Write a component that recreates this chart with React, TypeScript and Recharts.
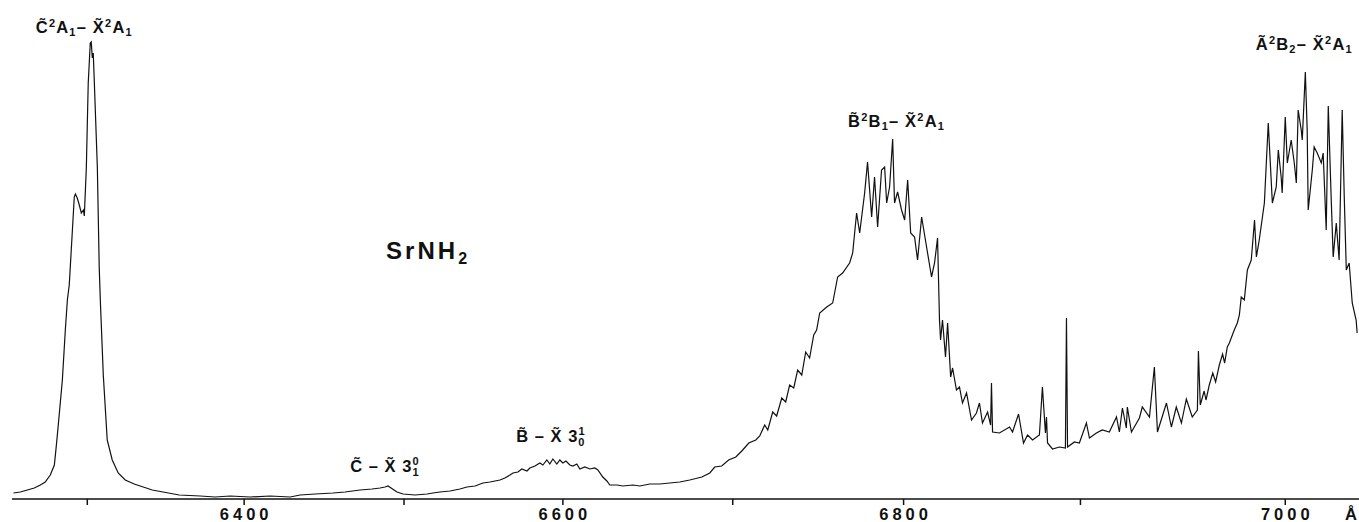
import React from 'react';
import { LineChart, Line, XAxis, YAxis, ReferenceDot } from 'recharts';

// wavelength (Å) of each point
const WAVELENGTH = [
  6252.9, 6257.3, 6261.8, 6266.2, 6270.1, 6273.2, 6276.4, 6279.0, 6280.3, 6281.5,
  6284.1, 6286.0, 6287.3, 6288.5, 6290.4, 6291.7, 6292.4, 6293.6, 6294.9, 6296.2,
  6297.5, 6298.1, 6299.4, 6300.6, 6301.9, 6302.5, 6303.2, 6303.8, 6304.5, 6306.4,
  6307.6, 6308.3, 6310.2, 6312.7, 6315.9, 6319.7, 6324.2, 6329.9, 6341.4, 6358.6,
  6372.0, 6381.5, 6391.1, 6403.8, 6416.3, 6428.8, 6435.0, 6444.4, 6455.6, 6463.1,
  6472.5, 6480.0, 6485.0, 6488.1, 6490.0, 6491.9, 6495.6, 6499.4, 6506.9, 6514.5,
  6518.2, 6522.6, 6528.9, 6535.2, 6539.6, 6544.7, 6549.7, 6554.1, 6560.4, 6563.5,
  6566.7, 6568.6, 6571.7, 6574.2, 6577.4, 6579.2, 6582.4, 6585.5, 6587.4, 6589.9,
  6591.8, 6593.7, 6596.2, 6598.1, 6600.0, 6601.8, 6604.1, 6605.9, 6608.2, 6610.0,
  6612.9, 6615.9, 6618.8, 6620.6, 6623.5, 6625.9, 6627.6, 6631.8, 6635.3, 6641.2,
  6645.3, 6651.2, 6657.1, 6662.9, 6668.8, 6674.7, 6681.8, 6686.5, 6689.4, 6693.5,
  6697.6, 6701.8, 6705.3, 6709.4, 6713.5, 6715.8, 6718.7, 6720.5, 6723.4, 6725.7,
  6728.7, 6731.0, 6733.3, 6735.7, 6738.0, 6740.4, 6742.7, 6745.0, 6747.4, 6749.1,
  6750.9, 6755.0, 6758.5, 6761.4, 6764.3, 6768.4, 6770.2, 6772.5, 6774.3, 6777.2,
  6778.9, 6781.3, 6783.0, 6784.8, 6787.1, 6788.9, 6790.1, 6791.8, 6793.6, 6794.7,
  6796.5, 6798.8, 6800.6, 6802.3, 6804.0, 6806.2, 6807.9, 6810.2, 6813.0, 6815.8,
  6817.5, 6819.2, 6820.3, 6820.9, 6822.0, 6823.7, 6824.9, 6826.6, 6827.7, 6829.9,
  6831.6, 6833.3, 6835.6, 6838.4, 6841.2, 6842.9, 6844.6, 6847.5, 6849.2, 6849.7,
  6850.3, 6854.2, 6859.9, 6861.6, 6865.0, 6867.8, 6870.1, 6872.9, 6876.8, 6878.5,
  6880.2, 6880.8, 6881.4, 6884.2, 6888.1, 6891.5, 6892.1, 6892.7, 6896.6, 6899.4,
  6902.9, 6904.4, 6907.8, 6910.7, 6914.1, 6917.6, 6919.0, 6920.5, 6922.4, 6922.9,
  6924.9, 6928.8, 6930.2, 6933.7, 6936.1, 6937.6, 6942.0, 6944.4, 6946.8, 6949.3,
  6951.7, 6954.6, 6957.1, 6957.6, 6958.5, 6960.4, 6961.3, 6962.9, 6964.6, 6966.0,
  6967.8, 6969.4, 6970.4, 6971.7, 6972.7, 6975.1,
  6976.6, 6977.6, 6978.5, 6980.0, 6981.5, 6983.4, 6985.0, 6985.9, 6987.3, 6989.8,
  6991.7, 6993.7, 6995.6, 6996.6, 6998.0, 6998.5, 7000.0, 7001.0, 7002.9, 7004.4,
  7005.4, 7006.3, 7007.8, 7008.3, 7009.8, 7010.7, 7011.2, 7013.2, 7014.1, 7015.6,
  7017.6, 7018.5, 7020.0, 7021.0, 7022.4, 7023.4, 7024.9, 7026.3, 7027.8, 7028.8,
  7029.8, 7031.2, 7032.7, 7034.6, 7035.1,
];

// relative intensity (arbitrary units) at each wavelength
const INTENSITY = [
  1.2, 1.4, 1.8, 2.2, 2.8, 3.4, 4.8, 6.8, 10.8, 14.8,
  23.8, 33.8, 39.8, 42.8, 53.2, 60.4, 61.0, 60.2, 58.8, 57.2,
  57.8, 56.6, 66.4, 83.2, 91.2, 91.4, 88.2, 89.2, 83.2, 66.4,
  46.4, 39.8, 24.8, 11.8, 7.8, 5.2, 3.8, 3.0, 1.8, 0.8,
  0.6, 0.4, 0.6, 0.4, 0.6, 0.4, 0.8, 1.0, 1.2, 1.4,
  1.8, 2.0, 2.2, 2.4, 2.6, 2.2, 1.4, 1.0, 0.8, 1.0,
  1.2, 1.4, 1.6, 2.0, 2.4, 2.6, 3.2, 3.4, 3.8, 4.2,
  4.8, 5.2, 5.4, 6.0, 5.6, 6.2, 6.6, 7.2, 6.8, 7.8,
  7.0, 8.0, 7.0, 7.8, 7.2, 7.6, 6.8, 6.6, 7.0, 6.0,
  6.4, 6.0, 6.2, 5.8, 4.4, 3.6, 2.8, 2.8, 2.6, 2.8,
  2.6, 3.0, 3.0, 3.2, 3.4, 3.8, 4.4, 5.2, 6.4, 6.6,
  7.8, 8.4, 9.6, 11.2, 11.8, 12.6, 14.8, 13.8, 17.4, 16.6,
  20.2, 19.4, 22.8, 22.2, 25.8, 24.8, 29.4, 28.2, 32.8, 33.8,
  37.2, 38.4, 39.2, 44.4, 45.2, 47.2, 49.2, 57.2, 53.2, 61.2,
  67.4, 56.4, 64.4, 54.4, 65.8, 66.4, 59.2, 62.4, 72.0, 59.2,
  61.4, 57.8, 55.8, 63.8, 53.2, 52.4, 47.8, 56.4, 50.4, 44.4,
  47.2, 52.2, 35.8, 31.8, 35.8, 28.4, 35.2, 24.4, 26.2, 21.8,
  22.4, 19.2, 21.2, 15.8, 17.2, 19.2, 15.2, 17.4, 14.8, 23.2,
  13.4, 13.2, 14.4, 13.4, 17.0, 11.2, 12.8, 11.8, 12.8, 22.4,
  13.2, 16.4, 11.2, 10.0, 10.4, 10.2, 36.2, 10.4, 11.4, 11.2,
  15.2, 12.2, 13.2, 13.8, 13.4, 16.4, 13.4, 18.2, 14.2, 18.4,
  13.4, 16.2, 18.4, 16.4, 26.4, 13.4, 19.2, 14.4, 18.4, 15.2,
  20.0, 16.4, 17.8, 29.6, 18.8, 21.6, 19.8, 22.8, 25.2, 23.4,
  26.8, 29.0, 27.2, 30.4, 31.2, 33.8,
  35.2, 36.8, 40.4, 39.8, 45.8, 47.8, 55.8, 48.4, 51.8, 59.2,
  75.2, 59.2, 62.4, 69.8, 64.4, 61.2, 76.4, 67.2, 71.8, 67.2,
  63.2, 77.8, 73.8, 71.8, 85.4, 73.8, 57.8, 65.8, 70.4, 69.2,
  67.2, 69.2, 53.8, 78.6, 60.4, 48.4, 55.2, 47.8, 77.8, 60.4,
  45.8, 47.2, 39.2, 35.8, 33.2,
];

const TICKS = [6300, 6400, 6500, 6600, 6700, 6800, 6900, 7000];
const LABELLED_TICKS = [6400, 6600, 6800, 7000];
// the recorder's wavelength drive is not linear: relative length of each 100 Å step
const STEP_LENGTH = [157, 160, 159, 170, 171, 177, 205];
const WL_DOMAIN = [6252, 7036];

const FONT = '"Liberation Sans", Arial, Helvetica, sans-serif';
const INK = '#111';

const data = WAVELENGTH.map((wl, i) => ({ wl, y: INTENSITY[i] }));

function traceUnits(wl: number) {
  const k = Math.floor((wl - TICKS[0]) / 100);
  const idx = Math.max(0, Math.min(STEP_LENGTH.length - 1, k));
  let u = 0;
  for (let j = 0; j < idx; j++) u += STEP_LENGTH[j];
  return u + (STEP_LENGTH[idx] * (wl - TICKS[idx])) / 100;
}

// d3-like scale following the recorder calibration
function recorderScale(): any {
  let dom = [...WL_DOMAIN];
  let rng = [0, 1];
  const s: any = (v: number) => {
    const u0 = traceUnits(dom[0]);
    const u1 = traceUnits(dom[1]);
    return rng[0] + ((rng[1] - rng[0]) * (traceUnits(v) - u0)) / (u1 - u0);
  };
  s.domain = (d?: any[]) => {
    if (d === undefined) return dom.slice();
    dom = d.map(Number);
    return s;
  };
  s.range = (r?: any[]) => {
    if (r === undefined) return rng.slice();
    rng = r.map(Number);
    return s;
  };
  s.copy = () => recorderScale().domain(dom).range(rng);
  s.ticks = () => TICKS.filter((t) => t >= dom[0] && t <= dom[1]);
  s.tickFormat = () => (v: number) => String(v);
  s.invert = (px: number) => {
    let lo = dom[0];
    let hi = dom[1];
    for (let n = 0; n < 40; n++) {
      const mid = (lo + hi) / 2;
      if ((s(mid) - px) * (rng[1] - rng[0]) < 0) lo = mid;
      else hi = mid;
    }
    return (lo + hi) / 2;
  };
  s.nice = () => s;
  s.clamp = () => s;
  return s;
}

const AxisTick = (props: any) => {
  const { x, y, payload } = props;
  if (!LABELLED_TICKS.includes(payload.value)) return null;
  return (
    <text x={x + 2} y={y + 13} textAnchor="middle" fontFamily={FONT} fontWeight="bold"
      fontSize={16.5} letterSpacing={4} fill={INK}>
      {payload.value}
    </text>
  );
};

const sup = (t: string) => <tspan dy={-6} fontSize={11}>{t}</tspan>;

const bandLabel = (id: string) => (p: any) => {
  const common = {
    x: p.cx, y: p.cy, fontFamily: FONT, fontWeight: 'bold' as const, fill: INK,
  };
  if (id === 'C') {
    return (
      <text {...common} textAnchor="middle" fontSize={16.5} letterSpacing={1.2}>
        C&#x303;{sup('2')}<tspan dy={6}>A</tspan><tspan dy={3} fontSize={11}>1</tspan>
        <tspan dy={-3}>– X&#x303;</tspan>{sup('2')}<tspan dy={6}>A</tspan>
        <tspan dy={3} fontSize={11}>1</tspan>
      </text>
    );
  }
  if (id === 'B') {
    return (
      <text {...common} textAnchor="middle" fontSize={16.5} letterSpacing={1.2}>
        B&#x303;{sup('2')}<tspan dy={6}>B</tspan><tspan dy={3} fontSize={11}>1</tspan>
        <tspan dy={-3}>– X&#x303;</tspan>{sup('2')}<tspan dy={6}>A</tspan>
        <tspan dy={3} fontSize={11}>1</tspan>
      </text>
    );
  }
  if (id === 'A') {
    return (
      <text {...common} textAnchor="middle" fontSize={16.5} letterSpacing={1.2}>
        A&#x303;{sup('2')}<tspan dy={6}>B</tspan><tspan dy={3} fontSize={11}>2</tspan>
        <tspan dy={-3}>– X&#x303;</tspan>{sup('2')}<tspan dy={6}>A</tspan>
        <tspan dy={3} fontSize={11}>1</tspan>
      </text>
    );
  }
  if (id === 'C31') {
    return (
      <text {...common} textAnchor="middle" fontSize={16.5} letterSpacing={1}>
        C&#x303; – X&#x303; 3<tspan dy={4} fontSize={11}>1</tspan>
        <tspan dx={-7} dy={-11} fontSize={11}>0</tspan>
      </text>
    );
  }
  if (id === 'B30') {
    return (
      <text {...common} textAnchor="middle" fontSize={16.5} letterSpacing={1}>
        B&#x303; – X&#x303; 3<tspan dy={4} fontSize={11}>0</tspan>
        <tspan dx={-7} dy={-11} fontSize={11}>1</tspan>
      </text>
    );
  }
  return (
    <text {...common} textAnchor="start" fontSize={24} letterSpacing={3}>
      SrNH<tspan dy={5} fontSize={16}>2</tspan>
    </text>
  );
};

// label anchors in data coordinates (wavelength, intensity)
const LABEL_ID = ['C', 'S', 'C31', 'B30', 'B', 'A'];
const LABEL_WL = [6298.1, 6488.8, 6488.1, 6592.5, 6795.9, 7009.3];
const LABEL_Y = [93.2, 48.0, 5.4, 11.4, 74.4, 89.8];

const unitLabel = (p: any) => {
  const vb = p.viewBox || { x: 12, y: 499, width: 1347, height: 23 };
  return (
    <text x={vb.x + vb.width - 8} y={vb.y + 21} textAnchor="middle" fontFamily={FONT}
      fontWeight="bold" fontSize={16.5} fill={INK}>
      Å
    </text>
  );
};

export default function App() {
  return (
    <div style={{ position: 'absolute', left: 0, top: 0, background: '#fff' }}>
      <LineChart width={1359} height={522} data={data}
        margin={{ top: 24, right: 0, bottom: 0, left: 12 }}>
        <XAxis dataKey="wl" type="number" scale={recorderScale()} domain={WL_DOMAIN}
          allowDataOverflow ticks={TICKS} height={23} tickSize={6} stroke={INK}
          axisLine={{ stroke: INK, strokeWidth: 1.5 }} tickLine={{ stroke: INK, strokeWidth: 1.5 }}
          tick={<AxisTick />} interval={0} label={{ content: unitLabel }} />
        <YAxis type="number" domain={[0, 95]} hide allowDataOverflow width={0} />
        <Line type="linear" dataKey="y" stroke={INK} strokeWidth={1.2} dot={false}
          isAnimationActive={false} />
        {LABEL_ID.map((id, i) => (
          <ReferenceDot key={id} x={LABEL_WL[i]} y={LABEL_Y[i]} r={0} ifOverflow="visible"
            shape={bandLabel(id)} />
        ))}
      </LineChart>
    </div>
  );
}
